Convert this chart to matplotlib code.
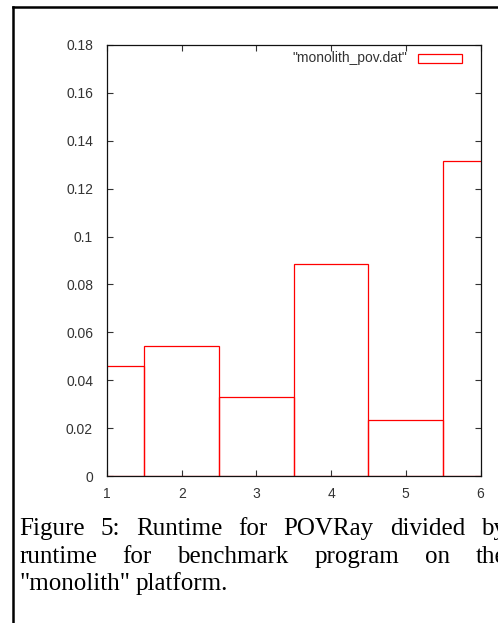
import matplotlib.pyplot as plt
from matplotlib.lines import Line2D
from matplotlib.patches import Rectangle

# runtime ratio per benchmark (POVRay / benchmark) on "monolith"
positions = [1, 2, 3, 4, 5, 6]
ratios = [0.046, 0.0543, 0.0331, 0.0887, 0.0234, 0.1316]
legend_label = '"monolith_pov.dat"'
yticks = [0, 0.02, 0.04, 0.06, 0.08, 0.1, 0.12, 0.14, 0.16, 0.18]
ytick_labels = ["0", "0.02", "0.04", "0.06", "0.08", "0.1", "0.12", "0.14", "0.16", "0.18"]

# caption, one list of words per line; the last line is not justified
caption = [
    ["Figure", "5:", "Runtime", "for", "POVRay", "divided", "by"],
    ["runtime", "for", "benchmark", "program", "on", "the"],
    ['"monolith"', "platform."],
]
caption_baselines = [535, 563, 590]

W, H = 498, 623
fig = plt.figure(figsize=(W / 100, H / 100), dpi=100)

def fx(px):
    return px / W

def fy(py):
    return 1 - py / H

ax = fig.add_axes([fx(107), fy(476), fx(480.5) - fx(107), fy(45) - fy(476)])
ax.bar(positions, ratios, width=1.0, fill=False, edgecolor="red", linewidth=0.9,
       zorder=2)
ax.set_xlim(1, 6)
ax.set_ylim(0, 0.18)
ax.set_yticks(yticks)
ax.set_yticklabels(ytick_labels)
ax.set_xticks(positions)
ax.tick_params(direction="in", length=4, width=0.8, color="#333333",
               top=True, right=True, labelsize=10, labelcolor="#333333")
ax.tick_params(axis="y", pad=10)
ax.tick_params(axis="x", pad=8)
for lab in ax.get_xticklabels() + ax.get_yticklabels():
    lab.set_fontfamily("Liberation Sans")
for s in ax.spines.values():
    s.set_linewidth(0.9)
    s.set_color("#111111")
    s.set_zorder(3)

# legend drawn by hand, gnuplot style
fig.text(fx(407), fy(58), legend_label, ha="right", va="center", fontsize=10,
         color="#333333", family="Liberation Sans")
fig.add_artist(Rectangle((fx(418), fy(62.5)), fx(462) - fx(418), fy(54.5) - fy(62.5),
                         transform=fig.transFigure, fill=False, edgecolor="red",
                         linewidth=0.9))

# page border of the cropped figure
fig.add_artist(Line2D([fx(13), fx(13)], [fy(7), 0], transform=fig.transFigure,
                      color="black", linewidth=1.8))
fig.add_artist(Line2D([fx(13), 1], [fy(7), fy(7)], transform=fig.transFigure,
                      color="black", linewidth=1.8))

# justified caption: text block runs past the right edge of the crop
left_px, right_px = 19, 506
renderer = fig.canvas.get_renderer()
for i, (words, base) in enumerate(zip(caption, caption_baselines)):
    texts = [fig.text(0, fy(base), w, ha="left", va="baseline", fontsize=18,
                      family="Liberation Serif", color="black") for w in words]
    widths = [t.get_window_extent(renderer).width for t in texts]
    if i == len(caption) - 1:
        gap_px = 6
    else:
        gap_px = (right_px - left_px - sum(widths)) / (len(words) - 1)
    x = left_px
    for t, w in zip(texts, widths):
        t.set_x(fx(x))
        x += w + gap_px

fig.savefig("out.png", dpi=100)
